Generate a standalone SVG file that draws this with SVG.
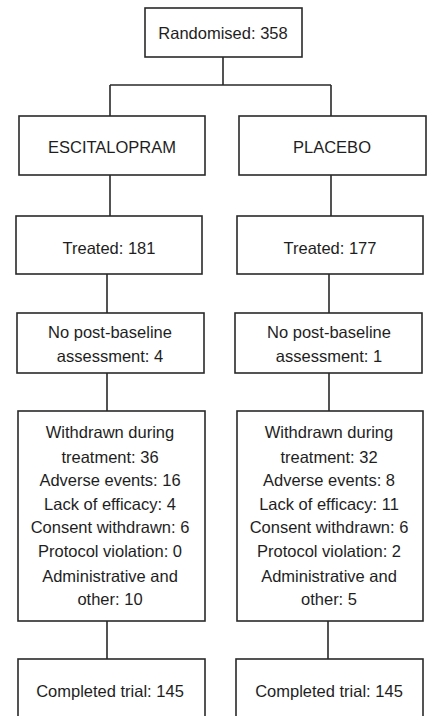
<svg xmlns="http://www.w3.org/2000/svg" width="431" height="716" viewBox="0 0 431 716">
<style>
.box{fill:#fff;stroke:#2a2a2a;stroke-width:1.6}
.ln{fill:none;stroke:#2a2a2a;stroke-width:1.6}
text{font-family:"Liberation Sans",Arial,sans-serif;font-size:16.5px;fill:#1e1e1e;text-anchor:middle}
</style>
<rect x="0" y="0" width="431" height="716" fill="#fff"/>
<g id="connectors">
<path class="ln" d="M223 57V85M110 85H331M110 85V116M331 85V116"/>
<path class="ln" d="M110 175V216M331 175V216"/>
<path class="ln" d="M107 274V313M329 274V313"/>
<path class="ln" d="M107 373V411M329 373V411"/>
<path class="ln" d="M107 621V659M328 621V659"/>
</g>
<g id="randomised"><rect class="box" x="145" y="8" width="157" height="49"/><text x="223" y="39">Randomised: 358</text></g>
<g id="escitalopram"><rect class="box" x="19" y="116" width="186" height="59"/><text x="112" y="153">ESCITALOPRAM</text></g>
<g id="placebo"><rect class="box" x="239" y="116" width="187" height="59"/><text x="332" y="153">PLACEBO</text></g>
<g id="treated-esc"><rect class="box" x="16" y="216" width="186" height="58"/><text x="109" y="254">Treated: 181</text></g>
<g id="treated-pla"><rect class="box" x="237" y="216" width="186" height="58"/><text x="330" y="254">Treated: 177</text></g>
<g id="nopost-esc"><rect class="box" x="17" y="313" width="187" height="60"/><text x="110" y="338">No post-baseline</text><text x="110" y="362">assessment: 4</text></g>
<g id="nopost-pla"><rect class="box" x="235" y="313" width="187" height="60"/><text x="329" y="338">No post-baseline</text><text x="329" y="362">assessment: 1</text></g>
<g id="withdrawn-esc"><rect class="box" x="18" y="411" width="187" height="210"/>
<text x="110" y="438">Withdrawn during</text><text x="110" y="463">treatment: 36</text><text x="110" y="486">Adverse events: 16</text><text x="110" y="510">Lack of efficacy: 4</text><text x="110" y="533">Consent withdrawn: 6</text><text x="110" y="557">Protocol violation: 0</text><text x="110" y="582">Administrative and</text><text x="110" y="605">other: 10</text></g>
<g id="withdrawn-pla"><rect class="box" x="237" y="411" width="186" height="210"/>
<text x="329" y="438">Withdrawn during</text><text x="329" y="463">treatment: 32</text><text x="329" y="486">Adverse events: 8</text><text x="329" y="510">Lack of efficacy: 11</text><text x="329" y="533">Consent withdrawn: 6</text><text x="329" y="557">Protocol violation: 2</text><text x="329" y="582">Administrative and</text><text x="329" y="605">other: 5</text></g>
<g id="completed-esc"><rect class="box" x="18" y="659" width="187" height="70"/><text x="110" y="697">Completed trial: 145</text></g>
<g id="completed-pla"><rect class="box" x="236" y="659" width="187" height="70"/><text x="329" y="697">Completed trial: 145</text></g>
</svg>
